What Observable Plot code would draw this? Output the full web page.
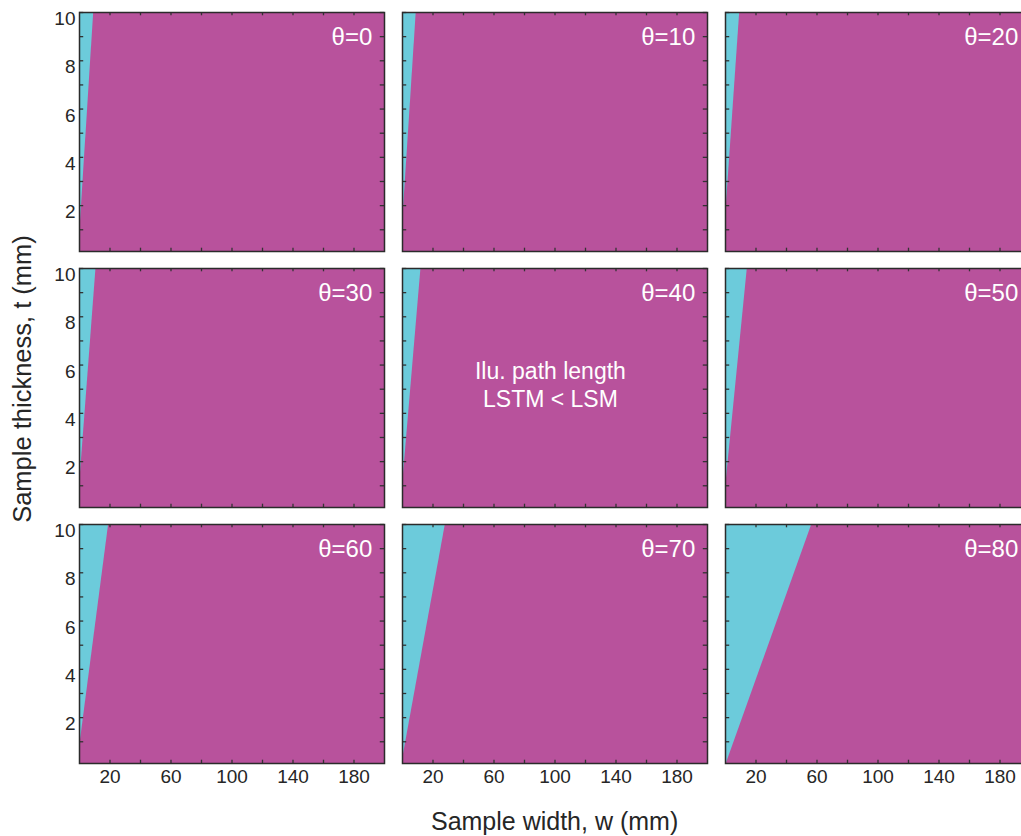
<!DOCTYPE html>
<html><head><meta charset="utf-8">
<script src="https://cdn.jsdelivr.net/npm/d3@7"></script>
<script src="https://cdn.jsdelivr.net/npm/@observablehq/plot@0.6"></script>
<style>
html,body{margin:0;padding:0;background:#fff;overflow:hidden;}
#chart{width:1021px;height:836px;overflow:hidden;}
#chart svg{max-width:none !important;}
</style></head><body><div id="chart"></div>
<script>
// ---- data ----
const thetas = [0, 10, 20, 30, 40, 50, 60, 70, 80];
// width w (mm) of the LSTM/LSM boundary at t = 10 mm
const boundaryTopW = [9.3, 9.0, 9.3, 10.8, 12.1, 14.3, 19.1, 28.1, 56.6];
// thickness t (mm) where the boundary meets w = 0
const boundaryZeroT = [0.7, 1.2, 1.5, 1.0, 1.0, 0.9, 0.75, 0.26, 0.0];
const tTop = 10;
const xTickLabels = [20, 60, 100, 140, 180];
const xMinorTicks = [20, 40, 60, 80, 100, 120, 140, 160, 180];
const yTickLabels = [2, 4, 6, 8, 10];
const yMinorTicks = [1, 2, 3, 4, 5, 6, 7, 8, 9, 10];
const thetaLabelW = 192;
const annotationTheta = 40;
const annotationW = 97;
const annotationT = 5.2;
const annotationText = "Ilu. path length\nLSTM < LSM";
const xTitle = "Sample width, w (mm)";
const yTitle = "Sample thickness, t (mm)";

// ---- styling / layout ----
const magenta = "#B8529C";
const cyan = "#6CCBDB";
const ink = "#262626";
const font = "'Liberation Sans', Arial, sans-serif";
const W = 1030, H = 836, ML = 79.2, MR = 0, MT = 11, MB = 72;
const padX = 0.0564, padY = 0.066;
const bandW = (W - ML - MR) / (3 - padX) * (1 - padX);
const bandH = (H - MT - MB) / (3 - padY) * (1 - padY);
const tick = 4;

const panels = thetas.map((theta, i) => ({theta, col: i % 3, row: Math.floor(i / 3), w: thetaLabelW}));
const wedge = panels.flatMap((p, i) => [
  {...p, t: boundaryZeroT[i], w: 0},
  {...p, t: tTop, w: boundaryTopW[i]}
]);
const annot = panels.filter(p => p.theta === annotationTheta)
  .map(p => ({...p, w: annotationW, t: annotationT, text: annotationText}));

const chart = Plot.plot({
  width: W, height: H,
  marginLeft: ML, marginRight: MR, marginTop: MT, marginBottom: MB,
  style: {fontFamily: font, background: "white", maxWidth: "none"},
  x: {domain: [0, 200]},
  y: {domain: [0.1, 10]},
  fx: {domain: [0, 1, 2], paddingInner: padX, paddingOuter: 0, axis: null},
  fy: {domain: [0, 1, 2], paddingInner: padY, paddingOuter: 0, axis: null},
  marks: [
    Plot.frame({fill: magenta, stroke: null}),
    Plot.areaX(wedge, {x1: () => 0, x2: "w", y: "t", z: "theta", fx: "col", fy: "row", fill: cyan, clip: true}),
    Plot.text(panels, {fx: "col", fy: "row", x: "w", text: d => `θ=${d.theta}`, frameAnchor: "top",
      textAnchor: "end", lineAnchor: "middle", dy: 25, fill: "white", fontSize: 24}),
    Plot.text(annot, {fx: "col", fy: "row", x: "w", y: "t", text: "text", fill: "white",
      fontSize: 23, lineHeight: 1.22, textAnchor: "middle", lineAnchor: "middle"}),
    Plot.tickX(xMinorTicks, {x: d => d, insetTop: bandH - tick, stroke: "#333", strokeWidth: 1.3}),
    Plot.tickX(xMinorTicks, {x: d => d, insetBottom: bandH - tick, stroke: "#333", strokeWidth: 1.3}),
    Plot.tickY(yMinorTicks, {y: d => d, insetRight: bandW - tick, stroke: "#333", strokeWidth: 1.3}),
    Plot.tickY(yMinorTicks, {y: d => d, insetLeft: bandW - tick, stroke: "#333", strokeWidth: 1.3}),
    Plot.frame({stroke: "#2b2b2b", strokeWidth: 1.5}),
    Plot.axisX(xTickLabels, {anchor: "bottom", tickSize: 0, tickPadding: 6, fontSize: 19, color: ink, label: null}),
    Plot.axisY(yTickLabels, {anchor: "left", tickSize: 0, tickPadding: 4, dy: 6.5, fontSize: 19, color: ink, label: null})
  ]
});
document.getElementById("chart").appendChild(chart);

const svg = d3.select(chart);
svg.append("text")
  .attr("x", ML + (W - ML - MR) / 2).attr("y", 830)
  .attr("text-anchor", "middle").attr("fill", ink)
  .style("font-size", "25px").style("font-family", font)
  .text(xTitle);
svg.append("text")
  .attr("transform", `translate(31,379) rotate(-90)`)
  .attr("text-anchor", "middle").attr("fill", ink)
  .style("font-size", "25.5px").style("font-family", font)
  .text(yTitle);
</script></body></html>
